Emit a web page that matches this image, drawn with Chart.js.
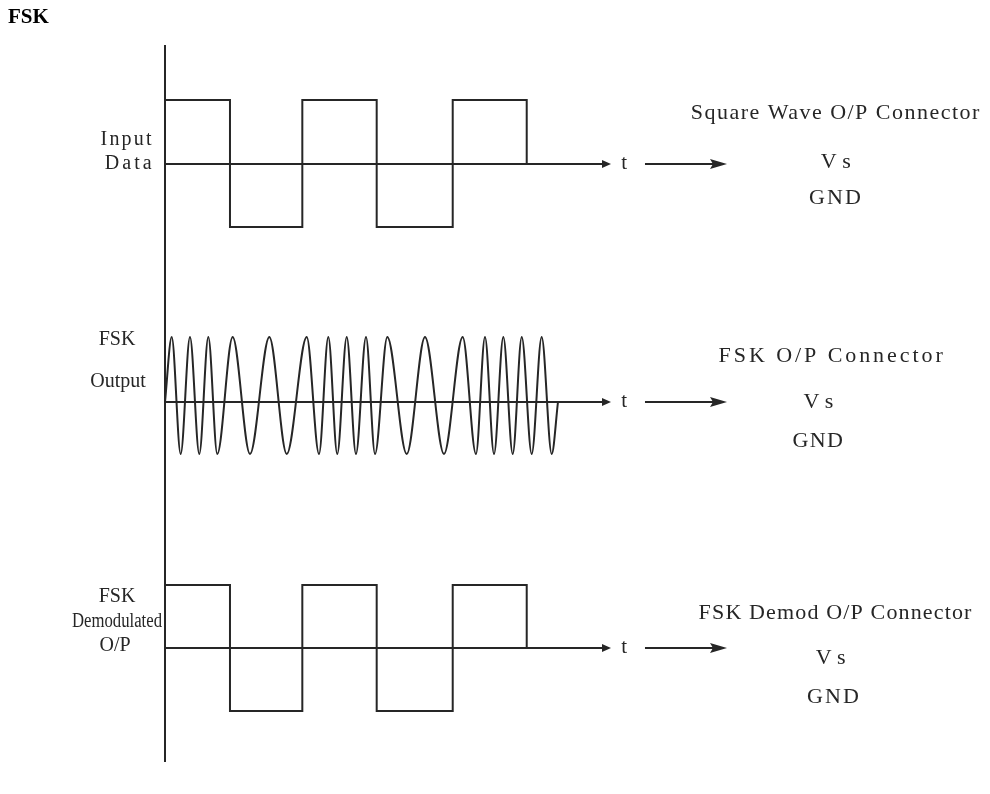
<!DOCTYPE html>
<html>
<head>
<meta charset="utf-8">
<title>FSK</title>
<script src="https://cdn.jsdelivr.net/npm/chart.js@4.4.0/dist/chart.umd.min.js"></script>
<style>
  html, body { margin: 0; padding: 0; background: #ffffff; }
  #wrap { position: relative; width: 990px; height: 794px; }
</style>
</head>
<body>
<div id="wrap"><canvas id="c" width="990" height="794"></canvas></div>
<script>
// ---------- data (time in bit periods, levels in volts-like units) ----------
const inputEdges  = [0, 0.900, 1.902, 2.932, 3.985, 5.010];
const inputLevels = [1, -1, 1, -1, 1, 0];

const fskTimes  = [0, 0.093, 0.217, 0.346, 0.475, 0.600, 0.724, 0.937, 1.177, 1.445, 1.686,
                   1.963, 2.133, 2.262, 2.386, 2.517, 2.645, 2.784, 2.909, 3.079, 3.348,
                   3.601, 3.864, 4.123, 4.307, 4.432, 4.557, 4.686, 4.816, 4.941, 5.079,
                   5.217, 5.356, 5.443];
const fskValues = [0, 1, -0.8, 1, -0.8, 1, -0.8, 1, -0.8, 1, -0.8,
                   1, -0.8, 1, -0.8, 1, -0.8, 1, -0.8, 1, -0.8,
                   1, -0.8, 1, -0.8, 1, -0.8, 1, -0.8, 1, -0.8,
                   1, -0.8, 0];

const demodEdges  = [0, 0.900, 1.902, 2.932, 3.985, 5.010];
const demodLevels = [1, -1, 1, -1, 1, 0];

const chartTitle = 'FSK';
const signalLabels = [['Input', 'Data'], ['FSK', 'Output'], ['FSK', 'Demodulated', 'O/P']];
const connectorLabels = ['Square Wave O/P Connector', 'FSK O/P Connector', 'FSK Demod O/P Connector'];
const supplyLabels = ['V s', 'GND'];
const timeLabel = 't';

// ---------- layout / style ----------
const INK = '#262626';
const SERIF = '"Liberation Serif", "DejaVu Serif", serif';
const LEFT_FONT = '20px ' + SERIF;
const RIGHT_FONT = '22px ' + SERIF;
const X_MIN = -2.2853, X_MAX = 11.4266;
const PANELS = [
  { id: 'y1', min: -1.593, max: 2.575 },
  { id: 'y2', min: -1.959, max: 2.113 },
  { id: 'y3', min: -2.317, max: 1.884 }
];
const AXIS_TOP = 1.866, AXIS_BOTTOM = -1.81;
const T_AXIS_END = 6.177, T_LABEL = 6.36, ARROW2_START = 6.648, ARROW2_END = 7.784;

// label placements: [t, value, targetWidth(px) or 0 for natural width]
const leftLabelPos = [
  [[-0.54, 0.37, 53], [-0.51, 0.0, 50]],
  [[-0.665, 0.954, 0], [-0.65, 0.308, 0]],
  [[-0.665, 0.81, 0], [-0.665, 0.413, 90], [-0.69, 0.03, 0]]
];
const rightLabelPos = [
  { title: [9.28, 0.795, 290], vs: [9.29, 0.02, 0], gnd: [9.28, -0.543, 54] },
  { title: [9.22, 0.708, 227], vs: [9.05, 0.0, 0], gnd: [9.04, -0.60, 52] },
  { title: [9.28, 0.556, 274], vs: [9.22, -0.16, 0], gnd: [9.25, -0.78, 54] }
];

function pts(xs, ys) { return xs.map((x, i) => ({ x: x, y: ys[i] })); }

function fitText(ctx, text, cx, cy, width, font) {
  ctx.save();
  ctx.font = font;
  ctx.letterSpacing = '0px';
  ctx.textAlign = 'center';
  ctx.textBaseline = 'middle';
  const n = text.length;
  const w = ctx.measureText(text).width;
  if (width && w > width) {
    ctx.translate(cx, cy);
    ctx.scale(width / w, 1);
    ctx.fillText(text, 0, 0);
  } else {
    let spacing = 0;
    if (width && n > 1) spacing = (width - w) / n;
    ctx.letterSpacing = spacing.toFixed(2) + 'px';
    ctx.fillText(text, cx + spacing / 2, cy);
  }
  ctx.restore();
}

const overlay = {
  id: 'overlay',
  afterDatasetsDraw(chart) {
    const ctx = chart.ctx;
    const xs = chart.scales.x;
    const ys = [chart.scales.y1, chart.scales.y2, chart.scales.y3];
    ctx.save();
    ctx.strokeStyle = INK;
    ctx.fillStyle = INK;
    ctx.lineWidth = 2;
    ctx.lineCap = 'butt';

    // vertical axis
    const x0 = xs.getPixelForValue(0);
    ctx.beginPath();
    ctx.moveTo(x0, ys[0].getPixelForValue(AXIS_TOP));
    ctx.lineTo(x0, ys[2].getPixelForValue(AXIS_BOTTOM));
    ctx.stroke();

    ys.forEach((y, i) => {
      const yb = Math.round(y.getPixelForValue(0));
      // time axis with small arrowhead
      const xe = xs.getPixelForValue(T_AXIS_END);
      ctx.beginPath();
      ctx.moveTo(x0, yb);
      ctx.lineTo(xe - 6, yb);
      ctx.stroke();
      ctx.beginPath();
      ctx.moveTo(xe, yb);
      ctx.lineTo(xe - 9, yb - 4);
      ctx.lineTo(xe - 9, yb + 4);
      ctx.closePath();
      ctx.fill();
      // t label
      ctx.font = '21px ' + SERIF;
      ctx.textAlign = 'center';
      ctx.textBaseline = 'middle';
      ctx.fillText(timeLabel, xs.getPixelForValue(T_LABEL), yb - 1);
      // second arrow
      const a0 = xs.getPixelForValue(ARROW2_START), a1 = xs.getPixelForValue(ARROW2_END);
      ctx.beginPath();
      ctx.moveTo(a0, yb);
      ctx.lineTo(a1 - 12, yb);
      ctx.stroke();
      ctx.beginPath();
      ctx.moveTo(a1, yb);
      ctx.lineTo(a1 - 17, yb - 5);
      ctx.lineTo(a1 - 14, yb);
      ctx.lineTo(a1 - 17, yb + 5);
      ctx.closePath();
      ctx.fill();

      // left labels
      signalLabels[i].forEach((txt, k) => {
        const p = leftLabelPos[i][k];
        fitText(ctx, txt, xs.getPixelForValue(p[0]), y.getPixelForValue(p[1]), p[2], LEFT_FONT);
      });
      // right labels
      const r = rightLabelPos[i];
      fitText(ctx, connectorLabels[i], xs.getPixelForValue(r.title[0]), y.getPixelForValue(r.title[1]), r.title[2], RIGHT_FONT);
      fitText(ctx, supplyLabels[0], xs.getPixelForValue(r.vs[0]), y.getPixelForValue(r.vs[1]), r.vs[2], RIGHT_FONT);
      fitText(ctx, supplyLabels[1], xs.getPixelForValue(r.gnd[0]), y.getPixelForValue(r.gnd[1]), r.gnd[2], RIGHT_FONT);
    });

    // title
    ctx.font = 'bold 21px ' + SERIF;
    ctx.textAlign = 'left';
    ctx.textBaseline = 'middle';
    ctx.fillStyle = '#000';
    ctx.fillText(chartTitle, 8, 18);
    ctx.restore();
  }
};

const lineStyle = {
  borderColor: INK,
  borderWidth: 2,
  pointRadius: 0,
  fill: false,
  clip: false
};

new Chart(document.getElementById('c'), {
  type: 'line',
  data: {
    datasets: [
      Object.assign({ label: 'Input Data', data: pts(inputEdges, inputLevels), yAxisID: 'y1', stepped: 'before' }, lineStyle),
      Object.assign({ label: 'FSK Output', data: pts(fskTimes, fskValues), yAxisID: 'y2',
                      cubicInterpolationMode: 'monotone', tension: 0.4 }, lineStyle),
      Object.assign({ label: 'FSK Demodulated O/P', data: pts(demodEdges, demodLevels), yAxisID: 'y3', stepped: 'before' }, lineStyle)
    ]
  },
  options: {
    responsive: false,
    animation: false,
    devicePixelRatio: 1,
    layout: { padding: 0 },
    plugins: { legend: { display: false }, tooltip: { enabled: false }, title: { display: false } },
    scales: {
      x: { type: 'linear', min: X_MIN, max: X_MAX, display: false },
      y1: { type: 'linear', position: 'left', stack: 'panels', stackWeight: 1, weight: 3, offset: false,
            min: PANELS[0].min, max: PANELS[0].max, display: false },
      y2: { type: 'linear', position: 'left', stack: 'panels', stackWeight: 1, weight: 2, offset: false,
            min: PANELS[1].min, max: PANELS[1].max, display: false },
      y3: { type: 'linear', position: 'left', stack: 'panels', stackWeight: 1, weight: 1, offset: false,
            min: PANELS[2].min, max: PANELS[2].max, display: false }
    }
  },
  plugins: [overlay]
});
</script>
</body>
</html>
